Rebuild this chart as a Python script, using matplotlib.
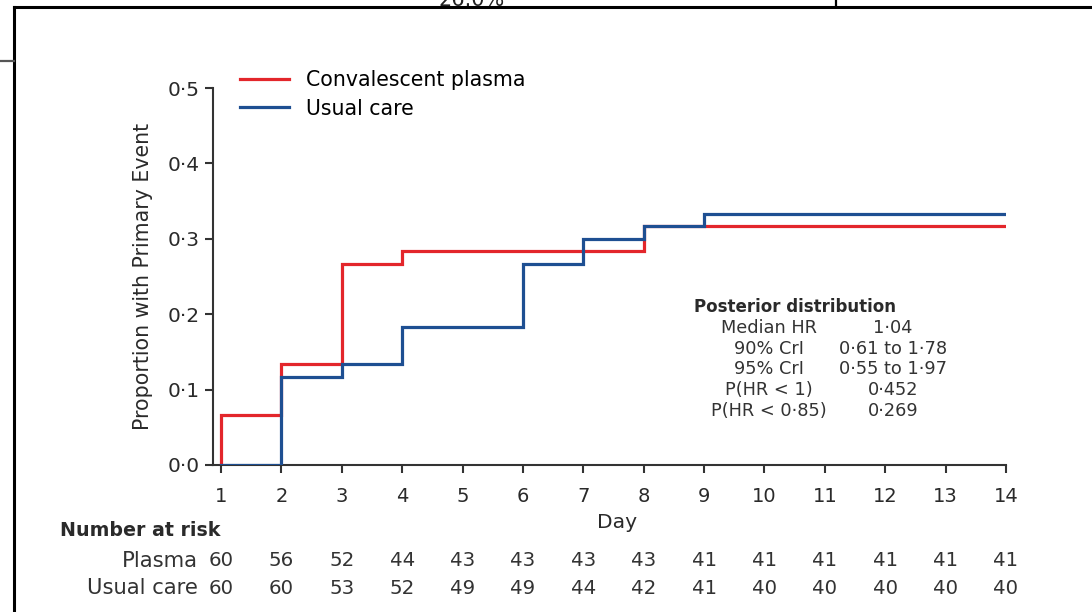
import matplotlib
matplotlib.use("Agg")
import matplotlib.pyplot as plt
from matplotlib.lines import Line2D
from matplotlib.ticker import FuncFormatter, FixedLocator
from matplotlib.transforms import blended_transform_factory

plt.rcParams['font.family'] = ['DejaVu Sans']

# Cumulative proportion with the primary event, step changes by day
plasma_days = [1, 1, 2, 3, 4, 8, 14]
plasma_prop = [0.0, 0.0667, 0.1333, 0.2667, 0.2833, 0.3167, 0.3167]
usual_days = [1, 2, 3, 4, 6, 7, 8, 9, 14]
usual_prop = [0.0, 0.1167, 0.1333, 0.1833, 0.2667, 0.3000, 0.3167, 0.3333, 0.3333]

# Number at risk table
risk_days = list(range(1, 15))
risk_plasma = [60, 56, 52, 44, 43, 43, 43, 43, 41, 41, 41, 41, 41, 41]
risk_usual = [60, 60, 53, 52, 49, 49, 44, 42, 41, 40, 40, 40, 40, 40]

# Posterior distribution summary
post_labels = ["Median HR", "90% CrI", "95% CrI", "P(HR < 1)", "P(HR < 0·85)"]
post_values = ["1·04", "0·61 to 1·78", "0·55 to 1·97", "0·452", "0·269"]

RED = "#e3262b"
BLUE = "#1e4f92"
AXC = "#333333"
TXT = "#2a2a2a"

W, H = 1092, 612
fig = plt.figure(figsize=(W / 100, H / 100), dpi=100)
fig.patch.set_facecolor("white")


def fx(x):
    return x / W


def fy(y):
    return 1 - y / H


# Axes placement (pixel box)
ax_left, ax_right, ax_top, ax_bottom = 213, 1006, 88, 465
ax = fig.add_axes([fx(ax_left), fy(ax_bottom), fx(ax_right - ax_left), fy(ax_top) - fy(ax_bottom)])
px_per_day = (ax_right - 221) / 13.0
x0 = 1 - (221 - ax_left) / px_per_day
ax.set_xlim(x0, 14)
ax.set_ylim(0, 0.5)

ax.step(plasma_days, plasma_prop, where="post", color=RED, lw=2.3, label="Convalescent plasma",
        solid_joinstyle="miter", zorder=3)
ax.step(usual_days, usual_prop, where="post", color=BLUE, lw=2.3, label="Usual care",
        solid_joinstyle="miter", zorder=4)

for s in ["top", "right"]:
    ax.spines[s].set_visible(False)
for s in ["left", "bottom"]:
    ax.spines[s].set_color(AXC)
    ax.spines[s].set_linewidth(1.5)

dot = FuncFormatter(lambda v, p: f"{v:.1f}".replace(".", "·"))
ax.yaxis.set_major_locator(FixedLocator([0, 0.1, 0.2, 0.3, 0.4, 0.5]))
ax.yaxis.set_major_formatter(dot)
ax.xaxis.set_major_locator(FixedLocator(risk_days))
ax.tick_params(axis="both", colors=AXC, labelcolor=TXT, width=1.5, direction="out")
ax.tick_params(axis="x", labelsize=14, length=6, pad=10)
ax.tick_params(axis="y", labelsize=14.5, length=5.5, pad=4)

fig.text(fx(143), fy(276), "Proportion with Primary Event", fontsize=14.8, color=TXT,
         rotation=90, ha="center", va="center")
fig.text(fx(617), fy(523), "Day", fontsize=14.6, color=TXT, ha="center", va="center")

leg = ax.legend(loc="upper left", bbox_to_anchor=((240 - ax_left) / (ax_right - ax_left), 1.047),
                frameon=False, fontsize=14.8, handlelength=2.4, handletextpad=0.8,
                labelspacing=0.4, borderaxespad=0, borderpad=0)
for h in leg.get_lines():
    h.set_linewidth(2.3)

# Posterior distribution block
fig.text(fx(694), fy(307), "Posterior distribution", fontsize=12, fontweight="bold",
         color=TXT, ha="left", va="center")
for i, (lab, val) in enumerate(zip(post_labels, post_values)):
    yy = 328 + i * 20.7
    fig.text(fx(769), fy(yy), lab, fontsize=12.8, color="#333333", ha="center", va="center")
    fig.text(fx(893), fy(yy), val, fontsize=12.8, color="#333333", ha="center", va="center")

# Number at risk table
tr = blended_transform_factory(ax.transData, fig.transFigure)
fig.text(fx(60), fy(531), "Number at risk", fontsize=13.7, fontweight="bold",
         color=TXT, ha="left", va="center")
fig.text(fx(198), fy(561), "Plasma", fontsize=15.2, color="#333333", ha="right", va="center")
fig.text(fx(198), fy(588), "Usual care", fontsize=15.2, color="#333333", ha="right", va="center")
for d, p, u in zip(risk_days, risk_plasma, risk_usual):
    ax.text(d, fy(561), str(p), transform=tr, fontsize=14.2, color="#333333",
            ha="center", va="center", clip_on=False)
    ax.text(d, fy(588), str(u), transform=tr, fontsize=14.2, color="#333333",
            ha="center", va="center", clip_on=False)

# Surrounding page frame
fig.add_artist(Line2D([fx(14), fx(14)], [fy(7), fy(H)], color="black", lw=2.2))
fig.add_artist(Line2D([fx(14), 1.0], [fy(7), fy(7)], color="black", lw=2.2))
fig.add_artist(Line2D([fx(836), fx(836)], [1.0, fy(7)], color="black", lw=1.6))
fig.add_artist(Line2D([0, fx(14)], [fy(61), fy(61)], color="#555555", lw=1.6))
fig.text(fx(472), fy(6.5), "26.0%", fontsize=15, color="#222222", ha="center", va="baseline")

fig.savefig("out.png", dpi=100, facecolor="white")
